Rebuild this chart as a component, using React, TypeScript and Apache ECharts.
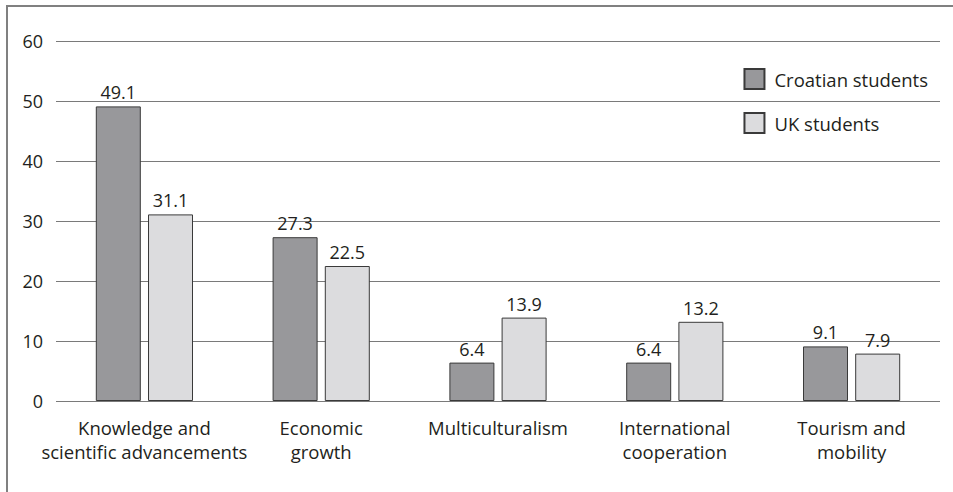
import React, { useEffect, useRef } from "react";
import * as echarts from "echarts";

const categories = [
  "Knowledge and\nscientific advancements",
  "Economic\ngrowth",
  "Multiculturalism",
  "International\ncooperation",
  "Tourism and\nmobility",
];
const croatianStudents = [49.1, 27.3, 6.4, 6.4, 9.1];
const ukStudents = [31.1, 22.5, 13.9, 13.2, 7.9];
const yTicks = { min: 0, max: 60, interval: 10 };

const FONT = "'Open Sans', 'Noto Sans', sans-serif";
const TEXT = "#231f20";
const SIZE = 18.5;

export default function App() {
  const ref = useRef<HTMLDivElement>(null);

  useEffect(() => {
    if (!ref.current) return;
    const chart = echarts.init(ref.current, null, { renderer: "svg" });
    const labelStyle = {
      show: true,
      position: "top" as const,
      distance: 5,
      color: TEXT,
      fontFamily: FONT,
      fontSize: 18,
    };
    chart.setOption({
      animation: false,
      backgroundColor: "#ffffff",
      textStyle: { fontFamily: FONT, color: TEXT },
      graphic: [
        {
          type: "rect",
          shape: { x: 7, y: 6, width: 980, height: 520 },
          style: { fill: "none", stroke: "#808080", lineWidth: 2 },
          silent: true,
        },
      ],
      grid: { left: 56, right: 13, top: 41, bottom: 91 },
      legend: {
        orient: "vertical",
        right: 25,
        top: 68,
        padding: 0,
        itemWidth: 20,
        itemHeight: 20,
        itemGap: 22,
        icon: "rect",
        textStyle: { fontFamily: FONT, fontSize: SIZE, color: TEXT, padding: [0, 0, 0, 5] },
        data: ["Croatian students", "UK students"],
      },
      xAxis: {
        type: "category",
        data: categories,
        axisLine: { show: false },
        axisTick: { show: false },
        axisLabel: {
          margin: 14,
          color: TEXT,
          fontFamily: FONT,
          fontSize: SIZE,
          lineHeight: 24,
          interval: 0,
        },
      },
      yAxis: {
        type: "value",
        min: yTicks.min,
        max: yTicks.max,
        interval: yTicks.interval,
        axisLine: { show: false },
        axisTick: { show: false },
        axisLabel: { margin: 13, color: TEXT, fontFamily: FONT, fontSize: 18 },
        splitLine: { lineStyle: { color: "#7a7a7a", width: 1 } },
      },
      series: [
        {
          name: "Croatian students",
          type: "bar",
          data: croatianStudents,
          barWidth: 45,
          barGap: "16%",
          itemStyle: { color: "#98989b", borderColor: "#3a3a3a", borderWidth: 1 },
          label: labelStyle,
        },
        {
          name: "UK students",
          type: "bar",
          data: ukStudents,
          barWidth: 45,
          itemStyle: { color: "#dcdcde", borderColor: "#3a3a3a", borderWidth: 1 },
          label: labelStyle,
        },
      ],
    });
    return () => chart.dispose();
  }, []);

  return (
    <div
      ref={ref}
      style={{ position: "fixed", left: 0, top: 0, width: 953, height: 492 }}
    />
  );
}
